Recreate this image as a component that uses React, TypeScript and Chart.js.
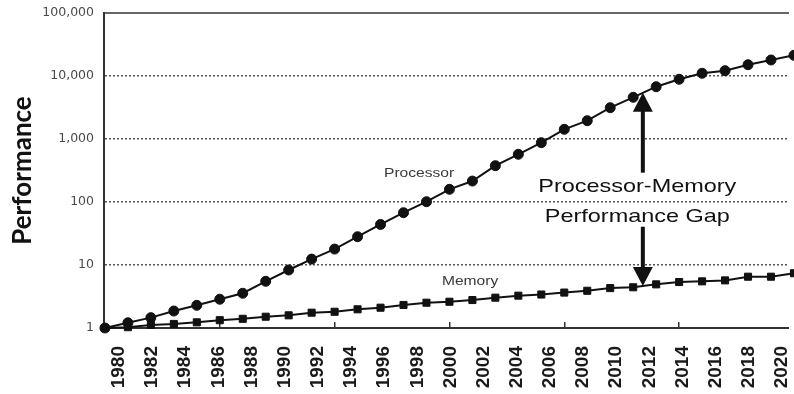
import { useEffect, useRef } from 'react';
import { Chart, registerables } from 'chart.js';

Chart.register(...registerables);

// Relative performance per sample step (log scale), first step normalised to 1
const PROCESSOR = [
  1, 1.21, 1.46, 1.86, 2.29, 2.86, 3.56, 5.51, 8.33, 12.4,
  17.9, 28.1, 44, 67.6, 101, 159, 215, 377, 572, 874,
  1426, 1952, 3140, 4590, 6760, 8870, 11040, 12140, 15100, 17950,
  21300,
];
const MEMORY = [
  1, 1.03, 1.12, 1.16, 1.23, 1.33, 1.4, 1.51, 1.59, 1.75,
  1.81, 1.98, 2.1, 2.32, 2.52, 2.61, 2.78, 3.03, 3.26, 3.4,
  3.65, 3.9, 4.3, 4.43, 4.93, 5.37, 5.5, 5.7, 6.52, 6.52,
  7.4,
];
const STEPS = PROCESSOR.map((_, i) => i);

const YEAR_TICKS = [
  1980, 1982, 1984, 1986, 1988, 1990, 1992, 1994, 1996, 1998, 2000,
  2002, 2004, 2006, 2008, 2010, 2012, 2014, 2016, 2018, 2020,
];
const PERF_TICKS = [1, 10, 100, 1000, 10000, 100000];
const STEP_MARKS = [5, 10, 15, 20, 25];

const STEP_RANGE = [-0.04, 29.74];
const YEAR_RANGE = [1979.1, 2020.36];
const PERF_RANGE = [1, 100000];

// Annotation anchors, in data units (step, performance)
const PROCESSOR_LABEL = { step: 13.68, value: 286, text: 'Processor' };
const MEMORY_LABEL = { step: 15.9, value: 5.43, text: 'Memory' };
const GAP_STEP = 23.42;
const GAP_TEXT_STEP = 23.18;
const GAP_LINES = [
  { text: 'Processor-Memory', value: 175 },
  { text: 'Performance Gap', value: 58.4 },
];
const GAP_SHAFT_ENDS = { upper: 292, lower: 40.5 };

const SANS = "'Liberation Sans', Arial, Helvetica, sans-serif";

function stretchedText(
  ctx: CanvasRenderingContext2D,
  text: string,
  x: number,
  y: number,
  font: string,
  color: string,
  sx: number,
) {
  ctx.save();
  ctx.translate(x, y);
  ctx.scale(sx, 1);
  ctx.font = font;
  ctx.fillStyle = color;
  ctx.textAlign = 'center';
  ctx.textBaseline = 'middle';
  ctx.fillText(text, 0, 0);
  ctx.restore();
}

function arrow(ctx: CanvasRenderingContext2D, x: number, fromY: number, tipY: number) {
  const headLen = 19;
  const headHalf = 10;
  const dir = tipY < fromY ? -1 : 1;
  const baseY = tipY - dir * headLen;
  ctx.save();
  ctx.strokeStyle = '#111';
  ctx.fillStyle = '#111';
  ctx.lineWidth = 4;
  ctx.beginPath();
  ctx.moveTo(x, fromY);
  ctx.lineTo(x, baseY + dir * 2);
  ctx.stroke();
  ctx.beginPath();
  ctx.moveTo(x, tipY);
  ctx.lineTo(x - headHalf, baseY);
  ctx.lineTo(x + headHalf, baseY);
  ctx.closePath();
  ctx.fill();
  ctx.restore();
}

function logInterp(series: number[], step: number) {
  const i = Math.floor(step);
  const t = step - i;
  return Math.exp(Math.log(series[i]) * (1 - t) + Math.log(series[i + 1]) * t);
}

const gapAnnotations = {
  id: 'gapAnnotations',
  afterDatasetsDraw(chart: Chart) {
    const { ctx } = chart;
    const xs = chart.scales.x;
    const ys = chart.scales.y;
    const px = (s: number) => xs.getPixelForValue(s);
    const py = (v: number) => ys.getPixelForValue(v);

    stretchedText(ctx, PROCESSOR_LABEL.text, px(PROCESSOR_LABEL.step), py(PROCESSOR_LABEL.value),
      `13px ${SANS}`, '#3a3a3a', 1.2);
    stretchedText(ctx, MEMORY_LABEL.text, px(MEMORY_LABEL.step), py(MEMORY_LABEL.value),
      `13px ${SANS}`, '#3a3a3a', 1.2);

    for (const line of GAP_LINES) {
      stretchedText(ctx, line.text, px(GAP_TEXT_STEP), py(line.value), `19px ${SANS}`, '#111', 1.234);
    }

    const ax = px(GAP_STEP);
    arrow(ctx, ax, py(GAP_SHAFT_ENDS.upper), py(logInterp(PROCESSOR, GAP_STEP)));
    arrow(ctx, ax, py(GAP_SHAFT_ENDS.lower), py(logInterp(MEMORY, GAP_STEP)));
  },
};

export default function App() {
  const canvasRef = useRef<HTMLCanvasElement>(null);

  useEffect(() => {
    const canvas = canvasRef.current;
    if (!canvas) return;

    const chart = new Chart(canvas, {
      type: 'line',
      data: {
        datasets: [
          {
            label: 'Memory',
            data: MEMORY.map((y, i) => ({ x: STEPS[i], y })),
            xAxisID: 'x',
            yAxisID: 'y',
            borderColor: '#111',
            backgroundColor: '#111',
            borderWidth: 2,
            pointStyle: 'rect',
            pointRadius: 5,
            pointBorderWidth: 1,
            pointBorderColor: '#111',
            pointBackgroundColor: '#111',
            tension: 0,
            clip: false,
          },
          {
            label: 'Processor',
            data: PROCESSOR.map((y, i) => ({ x: STEPS[i], y })),
            xAxisID: 'x',
            yAxisID: 'y',
            borderColor: '#111',
            backgroundColor: '#111',
            borderWidth: 2,
            pointStyle: 'circle',
            pointRadius: 5,
            pointBorderWidth: 1,
            pointBorderColor: '#111',
            pointBackgroundColor: '#111',
            tension: 0,
            clip: false,
          },
        ],
      },
      options: {
        responsive: false,
        animation: false,
        devicePixelRatio: 1,
        layout: { padding: 0 },
        plugins: {
          legend: { display: false },
          tooltip: { enabled: false },
        },
        scales: {
          x: {
            type: 'linear',
            position: 'bottom',
            weight: 0,
            min: STEP_RANGE[0],
            max: STEP_RANGE[1],
            afterBuildTicks: (s: any) => {
              s.ticks = STEP_MARKS.map((value) => ({ value }));
            },
            afterFit: (s: any) => {
              s.height = 0;
              s.paddingLeft = 0;
              s.paddingRight = 0;
            },
            ticks: { display: false },
            grid: {
              display: true,
              drawOnChartArea: false,
              drawTicks: true,
              tickLength: -6,
              color: '#333',
              lineWidth: 1.5,
            },
            border: { display: false },
          },
          years: {
            type: 'linear',
            position: 'bottom',
            weight: 1,
            min: YEAR_RANGE[0],
            max: YEAR_RANGE[1],
            afterBuildTicks: (s: any) => {
              s.ticks = YEAR_TICKS.map((value) => ({ value }));
            },
            afterFit: (s: any) => {
              s.height = 66;
              s.paddingLeft = 0;
              s.paddingRight = 0;
            },
            ticks: {
              callback: (v: any) => String(v),
              font: { family: SANS, size: 19, weight: 'bold' },
              color: '#1a1a1a',
              minRotation: 90,
              maxRotation: 90,
              autoSkip: false,
              padding: 18,
            },
            grid: { display: false, drawTicks: false },
            border: { display: true, color: '#333', width: 2 },
          },
          top: {
            type: 'linear',
            position: 'top',
            min: STEP_RANGE[0],
            max: STEP_RANGE[1],
            afterFit: (s: any) => {
              s.height = 13;
              s.paddingLeft = 0;
              s.paddingRight = 0;
            },
            ticks: { display: false },
            grid: { display: false, drawTicks: false },
            border: { display: true, color: '#666', width: 2 },
          },
          y: {
            type: 'logarithmic',
            position: 'left',
            min: PERF_RANGE[0],
            max: PERF_RANGE[1],
            afterBuildTicks: (s: any) => {
              s.ticks = PERF_TICKS.map((value) => ({ value }));
            },
            afterFit: (s: any) => {
              s.width = 104;
              s.paddingTop = 0;
              s.paddingBottom = 0;
            },
            ticks: {
              callback: (v: any) => Number(v).toLocaleString('en-US'),
              font: { family: "'DejaVu Sans', sans-serif", size: 12.5 },
              color: '#4a4a4a',
              padding: 10,
              autoSkip: false,
            },
            grid: {
              drawTicks: false,
              lineWidth: 1.5,
              color: (c: any) =>
                c.tick && (c.tick.value === PERF_RANGE[0] || c.tick.value === PERF_RANGE[1])
                  ? 'rgba(0,0,0,0)'
                  : '#555',
            },
            border: { display: true, color: '#333', width: 2, dash: [2, 2] },
            title: {
              display: true,
              text: 'Performance',
              font: { family: "Lato, 'Open Sans', sans-serif", size: 26, weight: 'bold' },
              color: '#111',
              padding: { top: 7, bottom: 0 },
            },
          },
        },
      },
      plugins: [gapAnnotations],
    } as any);

    return () => chart.destroy();
  }, []);

  return (
    <div style={{ position: 'fixed', left: 0, top: 0, width: 794, height: 394, background: '#fff' }}>
      <canvas ref={canvasRef} width={794} height={394} style={{ display: 'block', width: 794, height: 394 }} />
    </div>
  );
}
